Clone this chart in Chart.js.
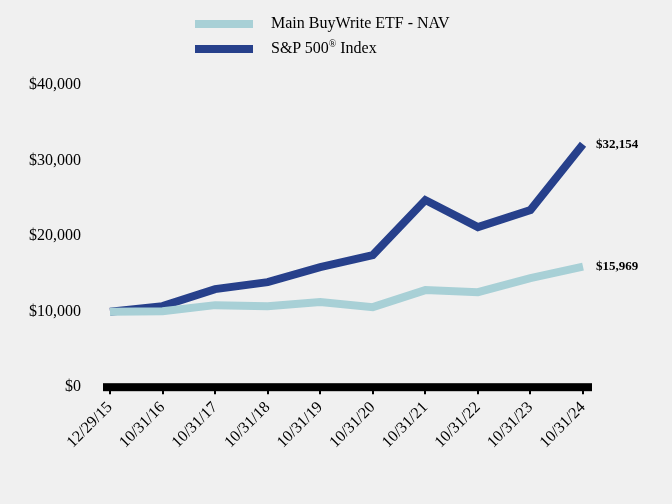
<!DOCTYPE html>
<html>
<head>
<meta charset="utf-8">
<script src="https://cdn.jsdelivr.net/npm/chart.js@4.4.1/dist/chart.umd.min.js"></script>
<style>
  html, body { margin: 0; padding: 0; background: #f0f0f0; }
  #wrap { position: relative; width: 672px; height: 504px; }
  #legend { position: absolute; left: 195px; top: 10px; font-family: "Liberation Serif", "Times New Roman", serif; font-size: 16px; color: #000; }
  .item { height: 25px; line-height: 25px; white-space: nowrap; }
  .item sup { font-size: 10px; line-height: 0; }
  .swatch { display: inline-block; width: 58px; height: 8px; vertical-align: middle; margin-right: 18px; }
</style>
</head>
<body>
<div id="wrap">
  <canvas id="myChart" width="672" height="504"></canvas>
  <div id="legend"></div>
</div>
<script>
var dates = ['12/29/15', '10/31/16', '10/31/17', '10/31/18', '10/31/19', '10/31/20', '10/31/21', '10/31/22', '10/31/23', '10/31/24'];
var buyWrite = [10000, 10050, 10860, 10730, 11260, 10600, 12850, 12580, 14440, 15969];
var sp500 = [10000, 10730, 12980, 13900, 15890, 17480, 24770, 21190, 23440, 32154];
var seriesNames = ['Main BuyWrite ETF - NAV', 'S&P 500<sup>®</sup> Index'];
var seriesColors = ['#a8d0d6', '#27408b'];

var serif = '"Liberation Serif", "Times New Roman", serif';

function money(v) {
    return '$' + Math.round(v).toLocaleString('en-US');
}

// legend, two rows
var legendHtml = '';
for (var i = 0; i < seriesNames.length; i++) {
    legendHtml += '<div class="item"><span class="swatch" style="background:' + seriesColors[i] + '"></span>' + seriesNames[i] + '</div>';
}
document.getElementById('legend').innerHTML = legendHtml;

// thick black base line at $0, a bit wider than the plot
var baseBar = {
    id: 'baseBar',
    beforeDatasetsDraw: function(chart) {
        var ctx = chart.ctx;
        var y = chart.scales.y.getPixelForValue(0);
        ctx.save();
        ctx.fillStyle = '#000';
        ctx.fillRect(chart.chartArea.left - 7, y - 4, chart.chartArea.right - chart.chartArea.left + 16, 8);
        ctx.restore();
    }
};

// value at the end of each line
var endLabels = {
    id: 'endLabels',
    afterDatasetsDraw: function(chart) {
        var ctx = chart.ctx;
        ctx.save();
        ctx.font = 'bold 13px ' + serif;
        ctx.fillStyle = '#000';
        ctx.textBaseline = 'middle';
        chart.data.datasets.forEach(function(ds, i) {
            var meta = chart.getDatasetMeta(i);
            var last = meta.data[meta.data.length - 1];
            ctx.fillText(money(ds.data[ds.data.length - 1]), last.x + 13, last.y);
        });
        ctx.restore();
    }
};

new Chart(document.getElementById('myChart'), {
    type: 'line',
    data: {
        labels: dates,
        datasets: [{
            label: 'Main BuyWrite ETF - NAV',
            data: buyWrite,
            borderColor: seriesColors[0],
            borderWidth: 8,
            pointRadius: 0,
            tension: 0
        }, {
            label: 'S&P 500 Index',
            data: sp500,
            borderColor: seriesColors[1],
            borderWidth: 8,
            pointRadius: 0,
            tension: 0
        }]
    },
    options: {
        responsive: false,
        animation: false,
        layout: { padding: { top: 85, left: 0, right: 89, bottom: 48 } },
        plugins: {
            legend: { display: false },
            tooltip: { enabled: false }
        },
        scales: {
            x: {
                offset: false,
                grid: { display: true, drawOnChartArea: false, drawTicks: true, tickLength: 7, color: '#000', lineWidth: 2 },
                border: { display: false },
                afterFit: function(scale) {
                    scale.paddingLeft = 0;
                    scale.paddingRight = 0;
                },
                ticks: {
                    font: { family: serif, size: 16 },
                    color: '#000',
                    minRotation: 45,
                    maxRotation: 45,
                    padding: 4
                }
            },
            y: {
                min: 0,
                max: 40000,
                grid: { display: false, drawTicks: false },
                border: { display: false },
                ticks: {
                    stepSize: 10000,
                    font: { family: serif, size: 16 },
                    color: '#000',
                    padding: 29,
                    callback: function(v) { return money(v); }
                }
            }
        }
    },
    plugins: [baseBar, endLabels]
});
</script>
</body>
</html>
